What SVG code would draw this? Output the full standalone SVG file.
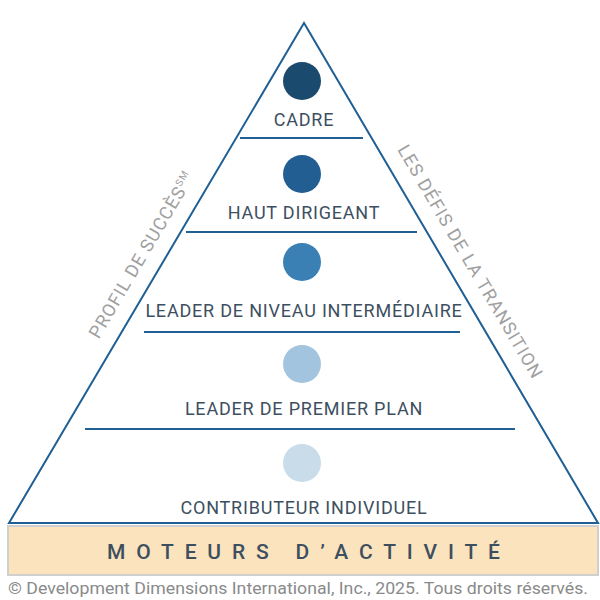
<svg xmlns="http://www.w3.org/2000/svg" width="600" height="600" viewBox="0 0 600 600">
<style>
.lbl{font-family:Roboto,"Liberation Sans",sans-serif;font-size:18px;fill:#3d4f5f;text-anchor:middle;letter-spacing:0.8px}
.side{font-family:Roboto,"Liberation Sans",sans-serif;font-size:18px;fill:#a0a0a0;text-anchor:middle;letter-spacing:1px}
.sep{stroke:#1f5f94;stroke-width:2}
</style>
<rect width="600" height="600" fill="#fff"/>
<g id="base">
<rect x="8" y="526" width="590" height="49" fill="#fbe3bd" stroke="#cfcfcf" stroke-width="2"/>
<text x="107" y="559" textLength="393" lengthAdjust="spacing" font-family="Roboto,'Liberation Sans',sans-serif" font-size="21" font-weight="500" fill="#3d4f5f">MOTEURS D’ACTIVITÉ</text>
</g>
<g id="pyramid">
<polygon points="304,23 9,523 598,523" fill="#fff" stroke="#1f5f94" stroke-width="2"/>
</g>
<g id="connectors">
<line class="sep" x1="240" y1="138" x2="363" y2="138"/>
<line class="sep" x1="186" y1="232" x2="417" y2="232"/>
<line class="sep" x1="144" y1="332" x2="460" y2="332"/>
<line class="sep" x1="85" y1="429" x2="515" y2="429"/>
</g>
<g id="cadre"><circle cx="302" cy="81" r="19" fill="#1a4a6e"/><text class="lbl" x="304" y="126">CADRE</text></g>
<g id="haut"><circle cx="302" cy="174" r="19" fill="#225e91"/><text class="lbl" x="304" y="219">HAUT DIRIGEANT</text></g>
<g id="niveau"><circle cx="302" cy="262" r="19" fill="#3a80b5"/><text class="lbl" x="304" y="317">LEADER DE NIVEAU INTERMÉDIAIRE</text></g>
<g id="premier"><circle cx="302" cy="364" r="19" fill="#a3c4df"/><text class="lbl" x="304" y="415">LEADER DE PREMIER PLAN</text></g>
<g id="contrib"><circle cx="302" cy="463" r="19" fill="#c8dcea"/><text class="lbl" x="304" y="514">CONTRIBUTEUR INDIVIDUEL</text></g>
<g id="sides">
<text class="side" transform="translate(147,258) rotate(-59.5)">PROFIL DE SUCCÈS<tspan font-size="10" dy="-7">SM</tspan></text>
<text class="side" transform="translate(465,265) rotate(59.5)">LES DÉFIS DE LA TRANSITION</text>
</g>
<text x="8" y="594" textLength="580" lengthAdjust="spacingAndGlyphs" font-family="Roboto,'Liberation Sans',sans-serif" font-size="17" fill="#8a8a8a">© Development Dimensions International, Inc., 2025. Tous droits réservés.</text>
</svg>
